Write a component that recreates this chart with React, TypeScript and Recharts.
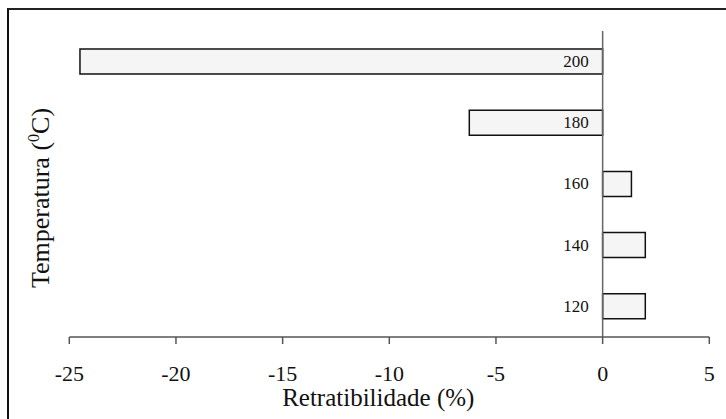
// Horizontal bar chart: retratibilidade (%) per temperatura (°C).
import { Bar, BarChart, Label, LabelList, ReferenceLine, XAxis, YAxis } from 'recharts'

const temps = ['200', '180', '160', '140', '120']
const retract = [-24.5, -6.25, 1.35, 2.0, 2.0]
const xTicks = [-25, -20, -15, -10, -5, 0, 5]

const data = temps.map((t, i) => ({ temp: t, value: retract[i] }))

const serif = '"Liberation Serif", "Times New Roman", serif'
const axisGray = '#555'

/** Temperature label drawn just left of the zero line, beside each bar. */
function TempLabel(props: any) {
  const { x, y, width, height, value, index } = props
  const v = retract[index ?? 0]
  const zero = v < 0 ? Math.max(x, x + width) : Math.min(x, x + width)
  return (
    <text
      x={zero - 14}
      y={y + height / 2}
      textAnchor="end"
      dominantBaseline="central"
      style={{ fontFamily: serif }}
      fontSize={17}
      fill="#111"
    >
      {value}
    </text>
  )
}

/** Rotated y-axis title with a superscript degree zero. */
function YTitle(props: any) {
  const vb = props.viewBox ?? {}
  const cx = vb.x + vb.width / 2 + 6
  const cy = vb.y + vb.height / 2 + 14
  return (
    <text
      x={cx}
      y={cy}
      transform={`rotate(-90, ${cx}, ${cy})`}
      textAnchor="middle"
      style={{ fontFamily: serif }}
      fontSize={26}
      fill="#111"
    >
      Temperatura (<tspan fontSize={16} dy={-10}>0</tspan>
      <tspan dy={10}>C)</tspan>
    </text>
  )
}

export default function App() {
  return (
    <div
      style={{
        position: 'absolute',
        left: 0,
        top: 0,
        width: 726,
        height: 419,
        background: '#fff',
        overflow: 'hidden',
        fontFamily: serif,
      }}
    >
      <div
        style={{
          position: 'absolute',
          left: 7,
          top: 8,
          width: 740,
          height: 430,
          borderTop: '2px solid #222',
          borderLeft: '2px solid #111',
        }}
      />
      <BarChart
        width={726}
        height={419}
        data={data}
        layout="vertical"
        margin={{ top: 31, right: 16.7, bottom: 0, left: 16.7 }}
        style={{ position: 'absolute', left: 0, top: 0, fontFamily: serif }}
      >
        <XAxis
          type="number"
          domain={[-25, 5]}
          ticks={xTicks}
          height={82}
          allowDataOverflow
          stroke={axisGray}
          axisLine={{ stroke: axisGray, strokeWidth: 1.5 }}
          tickLine={{ stroke: axisGray, strokeWidth: 1.5 }}
          tickSize={7}
          tickMargin={21}
          tick={{ fill: '#111', fontSize: 22, style: { fontFamily: serif } }}
        >
          <Label
            value="Retratibilidade (%)"
            position="insideBottom"
            offset={13}
            dx={-11}
            fill="#111"
            fontSize={25}
            style={{ fontFamily: serif }}
          />
        </XAxis>
        <YAxis type="category" dataKey="temp" width={52.6} tick={false} axisLine={false} tickLine={false}>
          <Label content={<YTitle />} />
        </YAxis>
        <ReferenceLine x={0} stroke="#666" strokeWidth={1.5} />
        <Bar dataKey="value" fill="#f5f5f5" stroke="#111" strokeWidth={1.5} barSize={25} isAnimationActive={false}>
          <LabelList dataKey="temp" content={<TempLabel />} />
        </Bar>
      </BarChart>
    </div>
  )
}
